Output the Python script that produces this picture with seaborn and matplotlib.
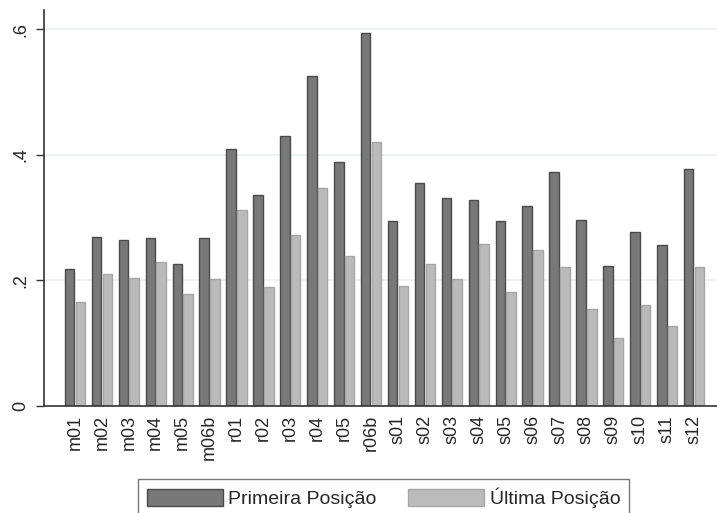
import matplotlib
matplotlib.use("Agg")
import matplotlib.pyplot as plt
import seaborn as sns
import pandas as pd

categories = ["m01", "m02", "m03", "m04", "m05", "m06b",
              "r01", "r02", "r03", "r04", "r05", "r06b",
              "s01", "s02", "s03", "s04", "s05", "s06",
              "s07", "s08", "s09", "s10", "s11", "s12"]
primeira = [0.219, 0.270, 0.265, 0.267, 0.226, 0.267,
            0.410, 0.336, 0.431, 0.526, 0.389, 0.594,
            0.294, 0.356, 0.331, 0.329, 0.295, 0.319,
            0.373, 0.297, 0.223, 0.278, 0.257, 0.377]
ultima = [0.166, 0.210, 0.204, 0.229, 0.179, 0.203,
          0.312, 0.189, 0.273, 0.348, 0.239, 0.421,
          0.191, 0.227, 0.202, 0.258, 0.182, 0.248,
          0.222, 0.155, 0.109, 0.161, 0.128, 0.221]
series_names = ["Primeira Posição", "Última Posição"]
yticks = [0, 0.2, 0.4, 0.6]
ytick_labels = ["0", ".2", ".4", ".6"]

df = pd.DataFrame({
    "cat": categories * 2,
    "val": primeira + ultima,
    "serie": [series_names[0]] * len(categories) + [series_names[1]] * len(categories),
})

sns.set_theme(style="white")
plt.rcParams["font.family"] = ["Liberation Sans", "DejaVu Sans"]

fills = ["#787878", "#bababa"]
edges = ["#4a4a4a", "#a6a6a6"]

fig = plt.figure(figsize=(7.17, 5.13), dpi=100)
ax = fig.add_axes([44 / 717, (513 - 406) / 513, (717 - 44) / 717, (406 - 10) / 513])

sns.barplot(data=df, x="cat", y="val", hue="serie", order=categories,
            hue_order=series_names, palette=fills, width=0.8, gap=0.12,
            errorbar=None, ax=ax, legend=False, saturation=1)

for cont, ec in zip(ax.containers, edges):
    for bar in cont:
        bar.set_edgecolor(ec)
        bar.set_linewidth(1.0)

ax.set_xlim(-1.15, 23.85)
ax.set_ylim(0, 0.631)
ax.set_yticks(yticks)
ax.set_yticklabels(ytick_labels, rotation=90, va="center", fontsize=13)
ax.set_xticks(range(len(categories)))
ax.set_xticklabels(categories, rotation=90, fontsize=13)
ax.tick_params(axis="y", length=5.5, width=1, color="#333333", pad=5, left=True)
ax.tick_params(axis="x", length=0, pad=6.5)
ax.set_xlabel("")
ax.set_ylabel("")
for g in [0.2, 0.4, 0.6]:
    ax.axhline(g, color="#e8f0f2", lw=1.1, zorder=0)
ax.set_axisbelow(True)
for s in ["top", "right"]:
    ax.spines[s].set_visible(False)
for s in ["left", "bottom"]:
    ax.spines[s].set_color("#333333")
    ax.spines[s].set_linewidth(1.2)

from matplotlib.patches import Patch
handles = [Patch(facecolor=fills[i], edgecolor=edges[i], lw=1) for i in range(2)]
leg = fig.legend(handles, series_names, ncol=2, loc="upper left",
                 bbox_to_anchor=(138 / 717, 1 - 479 / 513), borderaxespad=0,
                 fontsize=14, frameon=True, fancybox=False,
                 handlelength=3.9, handleheight=0.95, handletextpad=0.3,
                 columnspacing=1.6, borderpad=0.45)
leg.get_frame().set_edgecolor("#555555")
leg.get_frame().set_linewidth(1.0)

fig.savefig("out.png", dpi=100)
